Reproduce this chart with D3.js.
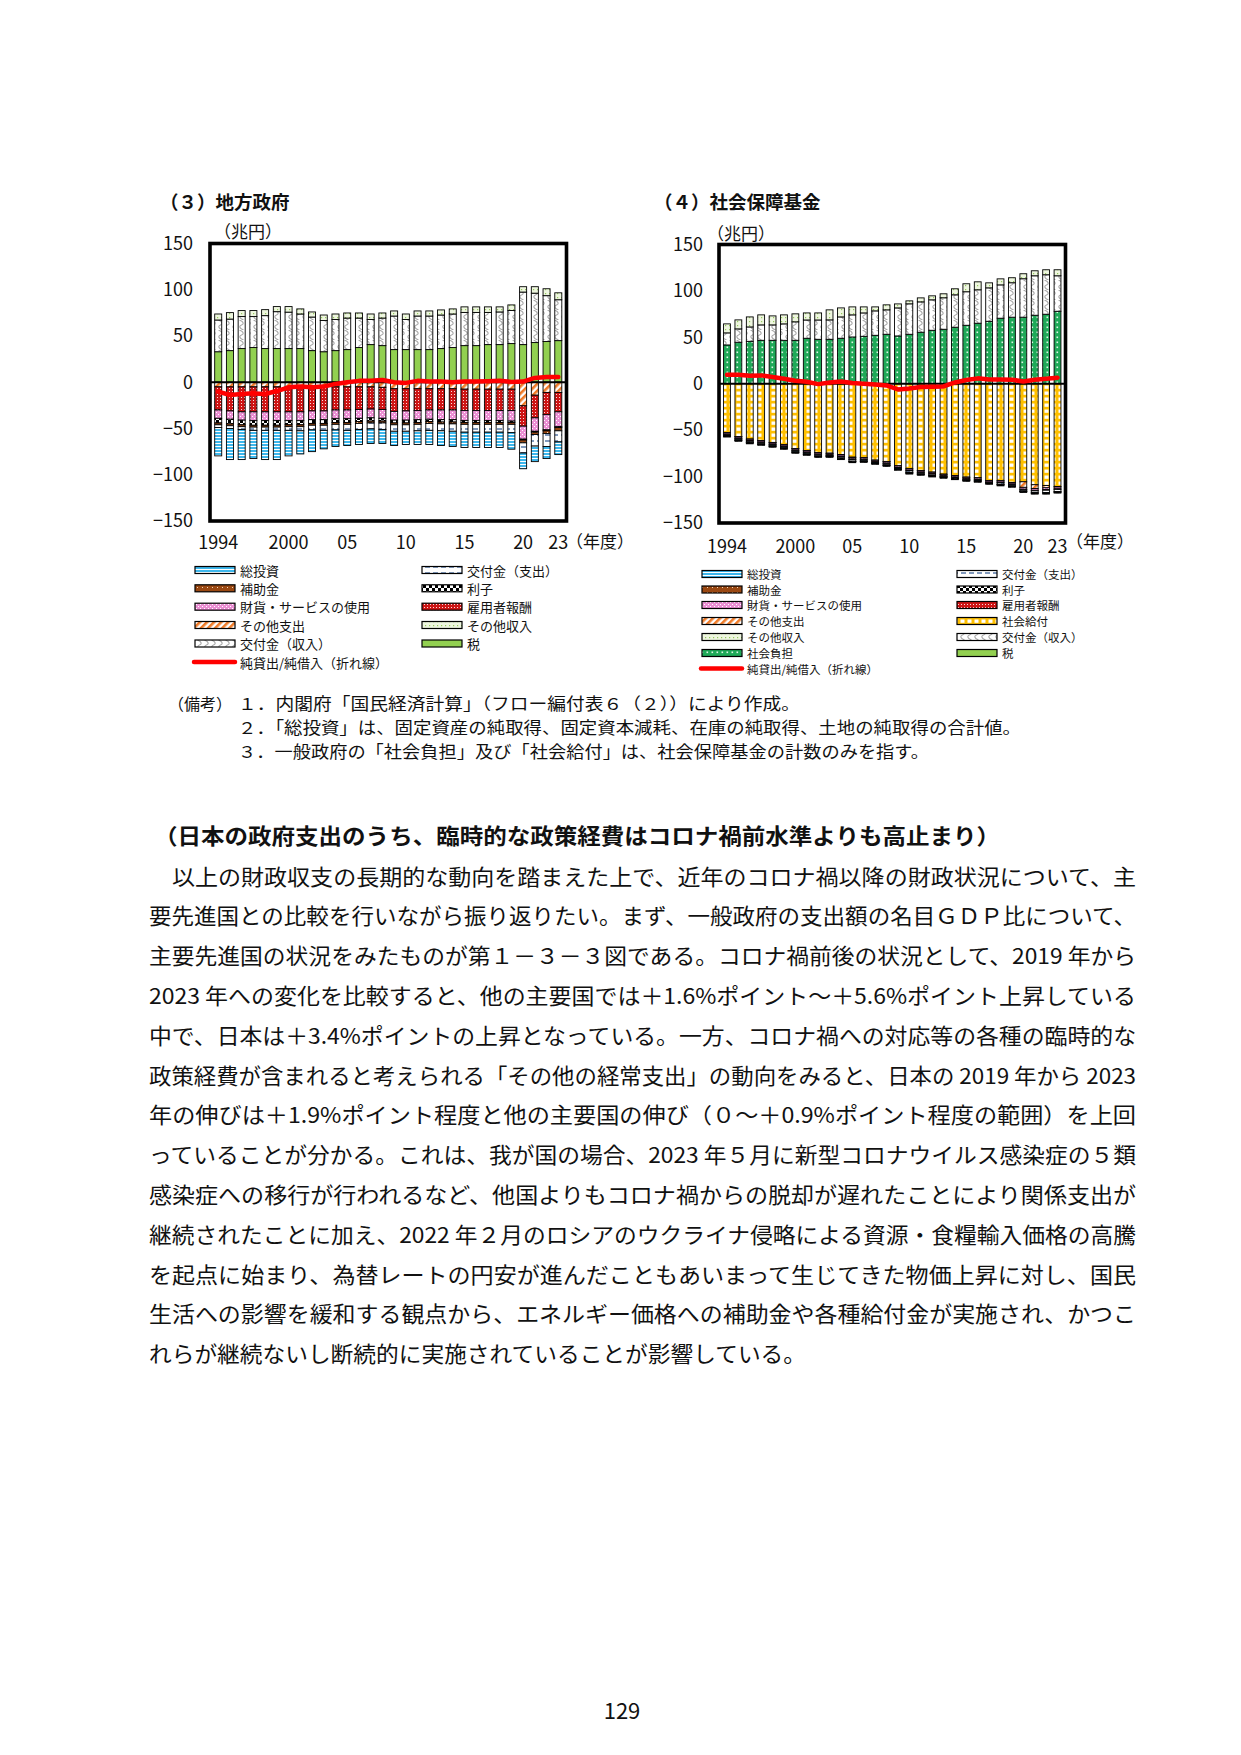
<!DOCTYPE html>
<html lang="ja">
<head>
<meta charset="utf-8">
<script src="https://cdn.jsdelivr.net/npm/d3@7"></script>
<style>
body { margin: 0; background: #fff; }
svg text { font-family: "Noto Sans CJK JP", sans-serif; fill: #111; }
</style>
</head>
<body>
<script>
// 年度と目盛
const years = d3.range(1994, 2024)
const xTickIdx = [0, 6, 11, 16, 21, 26, 29]
const xTickLabels = ["1994", "2000", "05", "10", "15", "20", "23"]
const yTicks = [-150, -100, -50, 0, 50, 100, 150]

// （３）地方政府（兆円）
const chiho_zei = [33,34.2,36.4,37.5,36.4,36.4,36.4,36.4,34.2,33,34.2,35.3,37.5,40.7,39.6,35.3,35.3,35.3,35.3,36.4,37.5,39.6,39.6,40.7,40.7,41.8,40.7,42.9,44,45]
const chiho_kofuIn = [34.3,34.1,34.6,33.5,35.6,39.9,39.4,37.4,36.3,33.7,33.6,34.1,31.9,27.1,29.8,36.3,32.5,36.3,36.3,36.3,36.3,35.9,35.9,34.8,35.3,35.8,56.8,53.4,49.6,44.2]
const chiho_sonotaIn = [6.5,7,6.5,6.5,6.5,5.5,6,5.5,5.5,6,6,5.5,5.5,6,5.5,5.5,6,5.5,5.5,5.5,5.5,6,6,6,5.5,6,5.8,7,7.5,7.5]
const chiho_sonotaOut = [-5,-5,-5,-5,-5,-5,-5,-5,-5,-5,-5,-5,-5,-5,-5.5,-7,-7,-7,-7,-7,-7,-7.5,-7.5,-7.5,-7.5,-7.5,-25.5,-14,-11,-11]
const chiho_koyo = [-25,-26,-27,-27,-27,-27,-27,-27,-26,-26,-25,-25,-24.5,-24,-24,-24.5,-24,-23.5,-23,-23,-23,-23,-23,-23,-23,-23,-22,-24.5,-24,-21]
const chiho_zaika = [-9,-9,-9,-9.5,-9.5,-9.5,-9.5,-9.5,-9.5,-9.5,-9.5,-9.5,-9.5,-9.5,-9.5,-9.5,-10,-10,-10,-10.5,-10.5,-11,-11,-11,-11,-11.5,-14,-14.5,-16.5,-16]
const chiho_rishi = [-5,-5,-5,-5,-5,-5,-4.5,-4.5,-4,-4,-4,-4,-3.5,-3.5,-3,-3,-3,-3,-2.5,-2.5,-2.5,-2,-2,-2,-2,-1.5,-1,-1,-1,-1]
const chiho_hojo = [-2,-2,-2,-2,-2,-2,-2,-2,-2,-2,-2,-2,-2,-2,-2,-2,-2,-2,-2,-2,-2,-2,-2,-2,-2,-2,-3,-2.5,-3,-3.5]
const chiho_kofuOut = [-3,-3,-3,-3.5,-3.5,-3.5,-4,-4.5,-5,-5.5,-6,-6.5,-6.5,-6.5,-7,-7,-7,-7,-7.5,-7.5,-8,-8.5,-8.5,-8.5,-8.5,-9,-11,-12.5,-14,-12]
const chiho_toshi = [-30.6,-33.6,-32.6,-30.5,-31.6,-31.6,-27.6,-25,-23.5,-20,-18,-16.4,-16.3,-15.7,-15.2,-15.4,-14.3,-14.8,-15.3,-15.9,-16.5,-16.5,-16.5,-16.5,-16.5,-17.9,-17,-16.8,-13,-13.7]
const chiho_net = [-10.2,-13.8,-12.7,-12,-12.7,-9.5,-5.5,-4.7,-5.5,-4.7,-1.8,0,1.5,1.5,2.5,0,-0.7,1.5,0.7,0.7,0,0.7,0.7,1,1.5,0.4,0.7,4.7,5.8,5.8]

// （４）社会保障基金（兆円）
const shaho_futan = [41.8,44.7,45.7,46.8,46.8,46.8,46.8,49,47.9,47.9,49,50.4,51.1,52.2,53.3,51.5,53.3,55.5,57.6,58.7,60.9,63,65.2,67.3,70.6,71.7,71.7,73.8,74.9,78.1]
const shaho_kofuIn = [13,14.4,15.5,16.6,16.6,17.7,19.9,19.7,20.8,20.9,23,23.8,25.2,26.3,26.3,30.2,32.8,32.7,32.8,33.9,34.9,36.1,36,36,35.9,37.1,41.4,42.5,42.5,38.2]
const shaho_sonotaIn = [9.7,9.7,10.8,10.8,9.7,9.7,8.6,7.6,7.6,10.8,9.7,8.6,6.5,4.3,5.4,4.3,3.2,4.3,4.3,4.3,6.5,8.6,8.6,5.4,6.5,5.4,5.4,5.4,5.4,6.5]
const shaho_kyufu = [-52.5,-56.8,-59.6,-61.1,-63.2,-65.4,-69.7,-71.9,-74.1,-74.8,-76.2,-79.1,-79.6,-82.3,-83.8,-88.4,-91.6,-93.4,-95.2,-97.4,-98.8,-100.6,-101.3,-104.2,-104.5,-106.3,-105.6,-108.8,-109.6,-110.7]
const shaho_sonotaOut = [-0.2,-0.2,-0.2,-0.2,-0.2,-0.2,-0.2,-0.2,-0.2,-0.2,-0.5,-0.5,-0.2,-0.2,-0.2,-0.2,-0.2,-0.2,-0.2,-0.2,-0.2,-0.2,-0.2,-0.2,-0.2,-0.2,-6,-4,-2.5,-0.5]
const shaho_zaika = [-1.5,-1.5,-1.5,-1.5,-1.5,-1.5,-1.5,-1.5,-1.5,-1.5,-1.5,-1.5,-1.5,-1.5,-1.5,-1.5,-1.5,-1.5,-1.5,-1.5,-1.5,-1.5,-1.5,-1.5,-1.5,-1.5,-2,-2,-2,-2]
const shaho_koyo = [-0.6,-0.6,-0.6,-0.6,-0.6,-0.6,-0.6,-0.6,-0.6,-0.6,-0.6,-0.6,-0.6,-0.6,-0.6,-0.6,-0.6,-0.6,-0.6,-0.6,-0.6,-0.6,-0.6,-0.6,-0.6,-0.6,-0.6,-0.6,-0.6,-0.6]
const shaho_kofuOut = [-1,-1.3,-1.2,-1.3,-1.3,-1.3,-1.3,-1.3,-1.3,-0.6,-1.3,-1.7,-1.2,-0.6,-1.3,-0.9,-1.8,-1.3,-1.3,-0.5,-0.6,-0.6,-0.9,-0.2,-1.6,-1.3,-1.3,-1.9,-2.6,-2.4]
const shaho_toshi = [-0.4,-0.4,-0.4,-0.4,-0.4,-0.4,-0.4,-0.4,-0.4,-0.4,-0.4,-0.4,-0.4,-0.4,-0.4,-0.4,-0.4,-0.4,-0.4,-0.4,-0.4,-0.4,-0.4,-0.4,-0.4,-0.4,-0.4,-0.4,-0.4,-0.4]
const shaho_hojo = [-0.2,-0.2,-0.2,-0.2,-0.2,-0.2,-0.2,-0.2,-0.2,-0.2,-0.2,-0.2,-0.2,-0.2,-0.2,-0.2,-0.2,-0.2,-0.2,-0.2,-0.2,-0.2,-0.2,-0.2,-0.2,-0.2,-0.2,-0.2,-0.2,-0.2]
const shaho_rishi = [-1,-1,-1,-1,-1,-1,-1,-1,-1,-1,-1,-1,-1,-1,-1,-1,-1,-1,-1,-1,-1,-1,-1,-1,-1,-1,-1,-1,-1,-1]
const shaho_net = [9.7,9.7,8.6,9,7.2,5.4,3.2,2.2,-0.4,1.4,2.5,0.7,0,-0.7,-1.8,-6.1,-5,-3.6,-3.2,-2.9,1.4,4,5.8,4.7,4.7,4.3,2.5,4.3,5.4,6.5]

// 凡例の名前
const legendLeft1 = ["総投資", "補助金", "財貨・サービスの使用", "その他支出", "交付金（収入）", "純貸出/純借入（折れ線）"]
const legendLeft2 = ["交付金（支出）", "利子", "雇用者報酬", "その他収入", "税"]
const legendRight1 = ["総投資", "補助金", "財貨・サービスの使用", "その他支出", "その他収入", "社会負担", "純貸出/純借入（折れ線）"]
const legendRight2 = ["交付金（支出）", "利子", "雇用者報酬", "社会給付", "交付金（収入）", "税"]

const notes = [
  "１．内閣府「国民経済計算」（フロー編付表６（２））により作成。",
  "２．「総投資」は、固定資産の純取得、固定資本減耗、在庫の純取得、土地の純取得の合計値。",
  "３．一般政府の「社会負担」及び「社会給付」は、社会保障基金の計数のみを指す。"
]
const heading = "（日本の政府支出のうち、臨時的な政策経費はコロナ禍前水準よりも高止まり）"
const bodyLines = [
  "　以上の財政収支の長期的な動向を踏まえた上で、近年のコロナ禍以降の財政状況について、主",
  "要先進国との比較を行いながら振り返りたい。まず、一般政府の支出額の名目ＧＤＰ比について、",
  "主要先進国の状況をみたものが第１－３－３図である。コロナ禍前後の状況として、2019 年から",
  "2023 年への変化を比較すると、他の主要国では＋1.6%ポイント～＋5.6%ポイント上昇している",
  "中で、日本は＋3.4%ポイントの上昇となっている。一方、コロナ禍への対応等の各種の臨時的な",
  "政策経費が含まれると考えられる「その他の経常支出」の動向をみると、日本の 2019 年から 2023",
  "年の伸びは＋1.9%ポイント程度と他の主要国の伸び（０～＋0.9%ポイント程度の範囲）を上回",
  "っていることが分かる。これは、我が国の場合、2023 年５月に新型コロナウイルス感染症の５類",
  "感染症への移行が行われるなど、他国よりもコロナ禍からの脱却が遅れたことにより関係支出が",
  "継続されたことに加え、2022 年２月のロシアのウクライナ侵略による資源・食糧輸入価格の高騰",
  "を起点に始まり、為替レートの円安が進んだこともあいまって生じてきた物価上昇に対し、国民",
  "生活への影響を緩和する観点から、エネルギー価格への補助金や各種給付金が実施され、かつこ",
  "れらが継続ないし断続的に実施されていることが影響している。"
]

var svg = d3.select("body").append("svg")
    .attr("width", 1241)
    .attr("height", 1755)
    .style("display", "block")
svg.append("rect").attr("width", 1241).attr("height", 1755).attr("fill", "#fff")

//模様
var defs = svg.append("defs")
function patron(id, w, h, dibujo, rot) {
    var p = defs.append("pattern")
        .attr("id", id)
        .attr("patternUnits", "userSpaceOnUse")
        .attr("width", w)
        .attr("height", h)
    if (rot) p.attr("patternTransform", "rotate(" + rot + ")")
    dibujo(p)
}
patron("p-toshi", 4, 3, p => {
    p.append("rect").attr("width", 4).attr("height", 3).attr("fill", "#3DB7EC")
    p.append("rect").attr("y", 2).attr("width", 4).attr("height", 1).attr("fill", "#fff")
})
patron("p-hojo", 5, 5, p => {
    p.append("rect").attr("width", 5).attr("height", 5).attr("fill", "#9A4812")
    p.append("rect").attr("x", 2).attr("y", 2).attr("width", 1).attr("height", 1).attr("fill", "#f3d6b5")
})
patron("p-zaika", 4, 4, p => {
    p.append("rect").attr("width", 4).attr("height", 4).attr("fill", "#EC8FD4")
    p.append("rect").attr("width", 1).attr("height", 1).attr("fill", "#fff")
    p.append("rect").attr("x", 2).attr("y", 2).attr("width", 1).attr("height", 1).attr("fill", "#fff")
})
patron("p-sonotaOut", 5, 5, p => {
    p.append("rect").attr("width", 5).attr("height", 5).attr("fill", "#fff")
    p.append("rect").attr("width", 2.6).attr("height", 5).attr("fill", "#F07A26")
}, 45)
patron("p-kofuIn", 7, 10, p => {
    p.append("rect").attr("width", 7).attr("height", 10).attr("fill", "#fff")
    p.append("path").attr("d", "M1.5,0 C6,2 6,4 3.5,5 C1,6 1,8 5.5,10")
        .attr("fill", "none").attr("stroke", "#a8a8a8").attr("stroke-width", 1.1)
})
patron("p-kofuOut", 8, 6, p => {
    p.append("rect").attr("width", 8).attr("height", 6).attr("fill", "#fff")
    p.append("line").attr("x1", 1).attr("x2", 6).attr("y1", 3).attr("y2", 3)
        .attr("stroke", "#4A6DA0").attr("stroke-width", 1.4)
})
patron("p-rishi", 6, 6, p => {
    p.append("rect").attr("width", 6).attr("height", 6).attr("fill", "#fff")
    p.append("rect").attr("width", 3).attr("height", 3).attr("fill", "#000")
    p.append("rect").attr("x", 3).attr("y", 3).attr("width", 3).attr("height", 3).attr("fill", "#000")
})
patron("p-koyo", 3, 3, p => {
    p.append("rect").attr("width", 3).attr("height", 3).attr("fill", "#CE1515")
    p.append("rect").attr("x", 1).attr("y", 1).attr("width", 1).attr("height", 1).attr("fill", "#fbdcdc")
})
patron("p-sonotaIn", 4, 4, p => {
    p.append("rect").attr("width", 4).attr("height", 4).attr("fill", "#EEF6DF")
    p.append("rect").attr("x", 1).attr("y", 1).attr("width", 1.2).attr("height", 1.2).attr("fill", "#96C95E")
})
patron("p-futan", 5, 5, p => {
    p.append("rect").attr("width", 5).attr("height", 5).attr("fill", "#1FA958")
    p.append("rect").attr("x", 1.5).attr("y", 1.5).attr("width", 1.6).attr("height", 1.6).attr("fill", "#dff5e6")
})
patron("p-kyufu", 7, 6, p => {
    p.append("rect").attr("width", 7).attr("height", 6).attr("fill", "#FFC000")
    p.append("rect").attr("x", 1.5).attr("y", 1.5).attr("width", 4).attr("height", 3.3).attr("fill", "#fff")
})

const FILL = {
    "総投資": "url(#p-toshi)", "補助金": "url(#p-hojo)", "財貨・サービスの使用": "url(#p-zaika)",
    "その他支出": "url(#p-sonotaOut)", "交付金（収入）": "url(#p-kofuIn)", "交付金（支出）": "url(#p-kofuOut)",
    "利子": "url(#p-rishi)", "雇用者報酬": "url(#p-koyo)", "その他収入": "url(#p-sonotaIn)",
    "税": "#92D050", "社会負担": "url(#p-futan)", "社会給付": "url(#p-kyufu)"
}

function grafico(o) {
    var g = svg.append("g")
    var x = d3.scaleBand().domain(d3.range(years.length)).range([o.x0, o.x1]).padding(0.4)
    var y = d3.scaleLinear().domain([-150, 150]).range([o.y0, o.y1])

    var tabla = years.map((a, i) => {
        var fila = { i: i }
        o.series.forEach(s => fila[s[0]] = s[1][i])
        return fila
    })
    var pila = d3.stack().keys(o.series.map(s => s[0])).offset(d3.stackOffsetDiverging)(tabla)

    pila.forEach(capa => {
        g.append("g").selectAll("rect")
            .data(capa.filter(d => d[1] !== d[0]))
            .join("rect")
            .attr("x", d => x(d.data.i))
            .attr("width", x.bandwidth())
            .attr("y", d => y(Math.max(d[0], d[1])))
            .attr("height", d => Math.abs(y(d[0]) - y(d[1])))
            .attr("fill", FILL[capa.key])
            .attr("stroke", "#000")
            .attr("stroke-width", 0.9)
    })

    // linea del cero
    g.append("line")
        .attr("x1", o.x0).attr("x2", o.x1)
        .attr("y1", y(0)).attr("y2", y(0))
        .attr("stroke", "#000").attr("stroke-width", 2)

    // 純貸出/純借入
    var linea = d3.line()
        .x((d, i) => x(i) + x.bandwidth() / 2)
        .y(d => y(d))
    g.append("path")
        .datum(o.net)
        .attr("fill", "none")
        .attr("stroke", "#FF0000")
        .attr("stroke-width", 4.5)
        .attr("stroke-linejoin", "round")
        .attr("stroke-linecap", "round")
        .attr("d", linea)

    // marco
    g.append("rect")
        .attr("x", o.x0).attr("y", o.y1)
        .attr("width", o.x1 - o.x0).attr("height", o.y0 - o.y1)
        .attr("fill", "none").attr("stroke", "#000").attr("stroke-width", 3.6)

    //EJE Y
    g.append("g")
        .attr("transform", "translate(" + o.tickX + ",0)")
        .call(d3.axisLeft(y).tickValues(yTicks).tickSize(0).tickPadding(0))
        .call(a => a.select(".domain").remove())
        .attr("font-family", "Liberation Serif")
        .attr("font-size", 18)
        .selectAll("text").attr("fill", "#111")

    //EJE X
    g.append("g")
        .attr("transform", "translate(0," + (o.xLabelY - 6.8) + ")")
        .call(d3.axisBottom(x).tickValues(xTickIdx).tickFormat((d, i) => xTickLabels[i]).tickSize(0).tickPadding(0))
        .call(a => a.select(".domain").remove())
        .attr("font-family", "Liberation Serif")
        .attr("font-size", 18)
        .selectAll("text").attr("fill", "#111")

    g.append("text").attr("x", o.unitX).attr("y", o.unitY)
        .attr("dominant-baseline", "central").attr("font-size", 17).text("（兆円）")
    g.append("text").attr("x", o.nendoX).attr("y", o.nendoY).attr("text-anchor", "middle")
        .attr("dominant-baseline", "central").attr("font-size", 17).text("（年度）")
    g.append("text").attr("x", o.titleX).attr("y", o.titleY)
        .attr("dominant-baseline", "central").attr("font-size", 18.5).attr("font-weight", "bold").text(o.title)
}

grafico({
    title: "（３）地方政府", titleX: 160, titleY: 201,
    x0: 210, x1: 566.5, y0: 521, y1: 243.5,
    tickX: 193, xLabelY: 543,
    unitX: 214, unitY: 230, nendoX: 600, nendoY: 540,
    series: [
        ["税", chiho_zei], ["交付金（収入）", chiho_kofuIn], ["その他収入", chiho_sonotaIn],
        ["その他支出", chiho_sonotaOut], ["雇用者報酬", chiho_koyo], ["財貨・サービスの使用", chiho_zaika],
        ["利子", chiho_rishi], ["補助金", chiho_hojo], ["交付金（支出）", chiho_kofuOut], ["総投資", chiho_toshi]
    ],
    net: chiho_net
})

grafico({
    title: "（４）社会保障基金", titleX: 654, titleY: 201,
    x0: 719, x1: 1065.5, y0: 523, y1: 244.5,
    tickX: 703, xLabelY: 547,
    unitX: 707, unitY: 232, nendoX: 1100, nendoY: 540,
    series: [
        ["社会負担", shaho_futan], ["交付金（収入）", shaho_kofuIn], ["その他収入", shaho_sonotaIn],
        ["社会給付", shaho_kyufu], ["その他支出", shaho_sonotaOut], ["財貨・サービスの使用", shaho_zaika],
        ["雇用者報酬", shaho_koyo], ["交付金（支出）", shaho_kofuOut], ["総投資", shaho_toshi],
        ["補助金", shaho_hojo], ["利子", shaho_rishi]
    ],
    net: shaho_net
})

// 凡例
function leyenda(nombres, sx, tx, filas, tam) {
    nombres.forEach((n, k) => {
        var yc = filas[k]
        if (n.indexOf("折れ線") >= 0) {
            svg.append("line")
                .attr("x1", sx - 1).attr("x2", sx + 40).attr("y1", yc).attr("y2", yc)
                .attr("stroke", "#FF0000").attr("stroke-width", 4.5).attr("stroke-linecap", "round")
        } else {
            svg.append("rect")
                .attr("x", sx).attr("y", yc - 3.5).attr("width", 40).attr("height", 7)
                .attr("fill", FILL[n]).attr("stroke", "#000").attr("stroke-width", 1.2)
        }
        svg.append("text").attr("x", tx).attr("y", yc)
            .attr("dominant-baseline", "central").attr("font-size", tam).text(n)
    })
}
leyenda(legendLeft1, 195, 240, [570, 588.3, 606.7, 625, 643.5, 662], 13)
leyenda(legendLeft2, 422, 467, [570, 588.3, 606.7, 625, 643.5], 13)
leyenda(legendRight1, 702, 747, [574, 589.5, 605, 621, 637, 653, 668.5], 11.5)
leyenda(legendRight2, 957, 1002, [574, 589.5, 605, 621, 637, 653], 11.5)

// 備考
svg.append("text").attr("x", 168).attr("y", 703).attr("dominant-baseline", "central")
    .attr("font-size", 16).text("（備考）")
var ancho_notas = [562, 783, 691]
notes.forEach((t, i) => {
    svg.append("text").attr("x", 238).attr("y", 703 + i * 24)
        .attr("dominant-baseline", "central").attr("font-size", 16.5)
        .attr("textLength", ancho_notas[i]).attr("lengthAdjust", "spacingAndGlyphs")
        .text(t)
})

// 本文
svg.append("text").attr("x", 154).attr("y", 834)
    .attr("dominant-baseline", "central").attr("font-size", 21.5).attr("font-weight", "bold")
    .attr("textLength", 846).attr("lengthAdjust", "spacingAndGlyphs")
    .text(heading)

bodyLines.forEach((t, i) => {
    var ultimo = i === bodyLines.length - 1
    svg.append("text").attr("x", 149).attr("y", 875 + i * 39.8)
        .attr("dominant-baseline", "central").attr("font-size", 21.5)
        .attr("textLength", ultimo ? 657 : 987).attr("lengthAdjust", "spacingAndGlyphs")
        .text(t)
})

svg.append("text").attr("x", 622).attr("y", 1709).attr("text-anchor", "middle")
    .attr("dominant-baseline", "central").attr("font-family", "Noto Sans").attr("font-size", 22)
    .text("129")
</script>
</body>
</html>
